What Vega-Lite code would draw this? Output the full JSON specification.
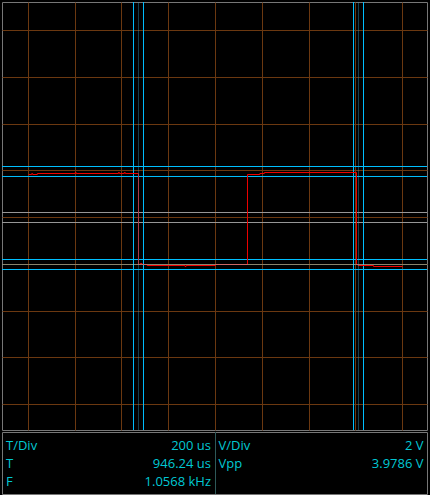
{
  "$schema": "https://vega.github.io/schema/vega-lite/v6.json",
  "background": "#000000",
  "padding": {"left": 1, "top": 1, "right": 2, "bottom": 2},
  "spacing": 0,
  "config": {
    "view": {"stroke": "#777777", "strokeWidth": 1},
    "axis": {"grid": true, "gridColor": "#6b3810", "gridOpacity": 1, "gridWidth": 1, "labels": false, "ticks": false, "domain": false, "minExtent": 0, "maxExtent": 0, "titlePadding": 0}
  },
  "vconcat": [
    {
      "width": 425,
      "height": 428,
      "layer": [
        {
          "data": {"values": [{"v": 0.1925}, {"v": -0.2353}]},
          "mark": {"type": "rule", "color": "#969696", "strokeWidth": 1},
          "encoding": {
            "y": {"field": "v", "type": "quantitative", "scale": {"domain": [-9.112, 9.198], "nice": false, "zero": false}, "axis": {"values": [-8, -6, -4, -2, 0, 2, 4, 6, 8], "title": null}}
          }
        },
        {
          "data": {"values": [{"t": -348.7}, {"t": -305.9}, {"t": 592.5}, {"t": 635.3}]},
          "mark": {"type": "rule", "color": "#00bfff", "strokeWidth": 1},
          "encoding": {
            "x": {"field": "t", "type": "quantitative", "scale": {"domain": [-911.2, 906.9], "nice": false, "zero": false}, "axis": {"values": [-800, -600, -400, -200, 0, 200, 400, 600, 800], "title": null}}
          }
        },
        {
          "data": {"values": [{"v": 2.16}, {"v": 1.733}, {"v": -1.818}, {"v": -2.246}]},
          "mark": {"type": "rule", "color": "#00bfff", "strokeWidth": 1},
          "encoding": {
            "y": {"field": "v", "type": "quantitative", "scale": {"domain": [-9.112, 9.198], "nice": false, "zero": false}, "axis": {"title": null}}
          }
        },
        {
          "data": {"values": [
            {"t": -797.9, "v": 1.818}, {"t": -784.0, "v": 1.818}, {"t": -784.0, "v": 1.861}, {"t": -780.0, "v": 1.861},
            {"t": -780.0, "v": 1.818}, {"t": -760.0, "v": 1.818}, {"t": -760.0, "v": 1.861}, {"t": -598.0, "v": 1.861},
            {"t": -598.0, "v": 1.904}, {"t": -594.0, "v": 1.904}, {"t": -594.0, "v": 1.861}, {"t": -413.0, "v": 1.861},
            {"t": -413.0, "v": 1.904}, {"t": -409.0, "v": 1.904}, {"t": -409.0, "v": 1.861}, {"t": -388.0, "v": 1.861},
            {"t": -388.0, "v": 1.904}, {"t": -384.0, "v": 1.904}, {"t": -384.0, "v": 1.861}, {"t": -327.3, "v": 1.861},
            {"t": -327.3, "v": -2.032}, {"t": -320.0, "v": -2.032}, {"t": -320.0, "v": -1.99}, {"t": -312.0, "v": -1.99},
            {"t": -312.0, "v": -2.032}, {"t": -290.0, "v": -2.032}, {"t": -290.0, "v": -2.075}, {"t": -128.0, "v": -2.075},
            {"t": -128.0, "v": -2.118}, {"t": -124.0, "v": -2.118}, {"t": -124.0, "v": -2.075}, {"t": 2.0, "v": -2.075},
            {"t": 2.0, "v": -2.032}, {"t": 139.0, "v": -2.032}, {"t": 139.0, "v": 1.818}, {"t": 192.0, "v": 1.818},
            {"t": 192.0, "v": 1.861}, {"t": 211.0, "v": 1.861}, {"t": 211.0, "v": 1.904}, {"t": 605.3, "v": 1.904},
            {"t": 605.3, "v": -2.032}, {"t": 612.0, "v": -2.032}, {"t": 612.0, "v": -2.075}, {"t": 678.0, "v": -2.075},
            {"t": 678.0, "v": -2.118}, {"t": 802.2, "v": -2.118}
          ]},
          "mark": {"type": "line", "color": "#ee0000", "strokeWidth": 1, "interpolate": "linear"},
          "encoding": {
            "x": {"field": "t", "type": "quantitative", "scale": {"domain": [-911.2, 906.9], "nice": false, "zero": false}, "axis": {"title": null}},
            "y": {"field": "v", "type": "quantitative", "scale": {"domain": [-9.112, 9.198], "nice": false, "zero": false}, "axis": {"title": null}}
          }
        },
        {
          "data": {"values": [{"t": -327.3}, {"t": 613.9}]},
          "mark": {"type": "rule", "color": "#3ca0c8", "opacity": 0.38, "strokeWidth": 1},
          "encoding": {
            "x": {"field": "t", "type": "quantitative", "scale": {"domain": [-911.2, 906.9], "nice": false, "zero": false}, "axis": {"title": null}}
          }
        },
        {
          "data": {"values": [{"v": -2.032}]},
          "mark": {"type": "rule", "color": "#a8d0c8", "opacity": 0.5, "strokeWidth": 1},
          "encoding": {
            "y": {"field": "v", "type": "quantitative", "scale": {"domain": [-9.112, 9.198], "nice": false, "zero": false}, "axis": {"title": null}}
          }
        }
      ]
    },
    {
      "width": 425,
      "height": 62,
      "data": {"values": [
        {"col": "L", "row": 0, "label": "T/Div", "value": "200 us"},
        {"col": "L", "row": 1, "label": "T", "value": "946.24 us"},
        {"col": "L", "row": 2, "label": "F", "value": "1.0568 kHz"},
        {"col": "R", "row": 0, "label": "V/Div", "value": "2 V"},
        {"col": "R", "row": 1, "label": "Vpp", "value": "3.9786 V"}
      ]},
      "layer": [
        {
          "data": {"values": [{"col": "R"}]},
          "mark": {"type": "rule", "color": "#2e5858", "strokeWidth": 1, "xOffset": 1},
          "encoding": {
            "x": {"field": "col", "type": "nominal", "scale": {"type": "band", "domain": ["L", "R"], "paddingInner": 0, "paddingOuter": 0}, "bandPosition": 0, "axis": null}
          }
        },
        {
          "mark": {"type": "text", "align": "left", "baseline": "alphabetic", "dx": 4, "font": "Open Sans", "fontSize": 13, "color": "#00c8d4"},
          "encoding": {
            "x": {"field": "col", "type": "nominal", "scale": {"type": "band", "domain": ["L", "R"], "paddingInner": 0, "paddingOuter": 0}, "bandPosition": 0, "axis": null},
            "y": {"field": "row", "type": "quantitative", "scale": {"domain": [-1, 2.444], "reverse": true, "nice": false, "zero": false}, "axis": null},
            "text": {"field": "label"}
          }
        },
        {
          "mark": {"type": "text", "align": "right", "baseline": "alphabetic", "dx": -3.5, "font": "Open Sans", "fontSize": 13, "color": "#00c8d4"},
          "encoding": {
            "x": {"field": "col", "type": "nominal", "scale": {"type": "band", "domain": ["L", "R"], "paddingInner": 0, "paddingOuter": 0}, "bandPosition": 1, "axis": null},
            "y": {"field": "row", "type": "quantitative", "scale": {"domain": [-1, 2.444], "reverse": true, "nice": false, "zero": false}, "axis": null},
            "text": {"field": "value"}
          }
        }
      ]
    }
  ]
}
